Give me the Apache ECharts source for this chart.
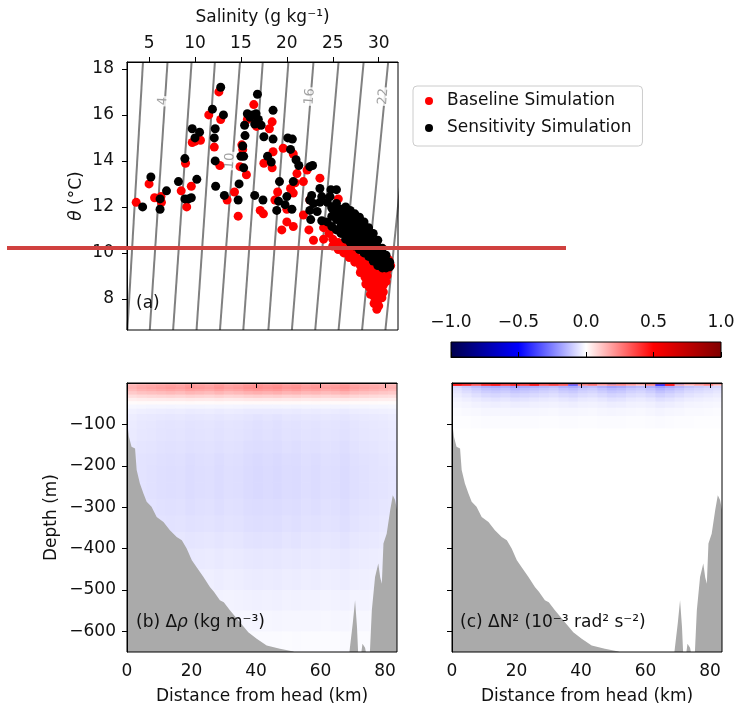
<!DOCTYPE html>
<html>
<head>
<meta charset="utf-8">
<script src="https://cdn.jsdelivr.net/npm/echarts@6/dist/echarts.min.js"></script>
<style>
  html, body { margin: 0; padding: 0; background: #fff; }
  #chart { width: 738px; height: 711px; }
</style>
</head>
<body>
<div id="chart"></div>
<script>
// ---------- panel (a): theta-S diagram ----------
const salTicks = [5, 10, 15, 20, 25, 30];
const thetaTicks = [8, 10, 12, 14, 16, 18];
// isopycnals, read as straight lines: salinity where each one meets the bottom / top of the box
const sigmaLevels = [2, 4, 6, 8, 10, 12, 14, 16, 18, 20, 22, 24];
const thetaBottom = 6.65;
const thetaTop = 18.3;
const sigmaSalBottom = [2.64, 5.08, 7.62, 10.17, 12.72, 15.26, 17.99, 20.55, 23.09, 25.63, 28.19, 30.73];
const sigmaSalTop = [4.34, 7.01, 9.63, 12.17, 14.90, 17.38, 20.17, 22.90, 25.63, 28.36, 31.03, 33.70];
const sigmaLabels = [[6.5, 16.6, 4], [13.8, 14.0, 10], [22.5, 16.8, 16], [30.5, 16.8, 22]];

const baseline = [
  [3.6,12.2],[5.0,13.0],[5.6,12.4],[6.35,12.2],[6.3,12.45],[8.5,12.7],[8.97,13.9],[9.1,12.0],[9.6,12.9],
  [9.7,14.8],[10.0,14.85],[10.6,14.9],[12.1,14.6],[12.6,17.0],[11.5,16.0],[12.7,13.8],[12.8,15.8],[13.5,12.3],
  [14.3,12.65],[14.7,11.6],[14.9,13.75],[15.1,14.7],[15.2,14.5],[15.6,13.4],[15.7,15.8],[16.1,15.9],[16.4,16.45],
  [16.7,15.5],[17.1,11.85],[17.45,11.7],[17.5,13.9],[18.1,15.4],[18.4,15.7],[18.4,13.7],[18.5,14.4],[18.7,12.3],
  [19.0,12.65],[19.45,11.0],[19.6,14.55],[20.0,11.9],[20.0,11.35],[20.4,12.8],[20.7,14.3],[20.7,12.6],[20.7,11.15],
  [20.9,13.05],[21.1,13.45],[21.8,13.1],[21.8,11.65],[22.2,13.6],[22.4,11.0],[22.5,12.3],[22.9,10.55],[23.6,13.25],
  [24.0,10.6],[24.2,11.2],[25.6,12.35],
  // dense cloud at the salty end
  [24.0,11.1],[24.6,10.85],[26.0,11.0],[27.0,10.6],[28.0,10.3],[29.0,10.0],[30.0,9.7],[31.1,9.7],[31.3,9.45],
  [25.0,10.6],[25.0,10.3],[25.6,10.45],[25.6,10.15],[26.2,10.3],[26.2,10.0],[26.8,10.1],[26.8,9.8],
  [27.4,9.95],[27.4,9.6],[28.0,9.75],[28.0,9.45],[28.0,9.15],[28.5,9.55],[28.5,9.25],[28.5,8.95],[28.6,8.65],
  [29.0,9.4],[29.0,9.1],[29.0,8.8],[29.0,8.5],[29.1,8.2],[29.5,9.3],[29.5,9.0],[29.5,8.7],[29.5,8.4],[29.5,8.1],
  [29.5,7.8],[30.0,9.2],[30.0,8.9],[30.0,8.6],[30.0,8.3],[30.0,8.0],[30.0,7.7],[30.5,9.2],[30.5,8.9],[30.5,8.6],
  [30.5,8.3],[30.35,8.05],[31.0,9.3],[30.9,9.0],[30.8,8.75],[29.8,7.55]
];

const sensitivity = [
  [4.3,12.0],[5.2,13.3],[6.2,12.35],[6.2,11.9],[6.9,12.7],[8.2,13.1],[8.9,14.1],[8.9,12.35],[9.3,12.35],[9.6,12.4],
  [9.7,15.4],[10.0,15.0],[10.2,13.2],[10.5,15.25],[11.9,16.25],[12.1,15.0],[12.2,15.4],[12.2,14.0],[12.25,12.9],
  [12.8,17.2],[13.1,16.0],[13.2,12.5],[14.7,12.3],[14.8,13.0],[15.0,14.2],[15.2,14.65],[15.3,14.2],[15.3,13.7],
  [15.4,15.55],[15.45,15.1],[15.7,16.05],[16.0,15.9],[16.3,16.0],[16.5,12.5],[16.65,16.05],[16.8,16.9],[16.9,15.8],
  [16.5,15.6],[17.2,15.55],[17.4,12.3],[17.5,15.05],[17.9,14.2],[18.3,13.95],[18.5,16.2],[18.5,14.95],[18.9,11.85],
  [19.1,12.25],[19.2,13.1],[19.8,12.1],[20.0,12.45],[20.1,15.0],[20.4,14.5],[20.55,11.9],[20.6,14.95],[20.7,13.1],
  [21.0,14.05],[21.3,13.8],[22.5,13.75],[22.5,12.3],[22.5,11.85],[22.6,11.45],[22.7,12.5],[22.8,13.8],[22.9,12.15],
  [23.3,11.8],[23.6,12.8],[23.6,12.2],[23.8,12.45],[23.8,11.4],[24.7,12.45],[24.9,12.0],[24.8,12.75],[25.4,12.75],
  // dense band at the salty end
  [24.4,12.2],[24.4,11.35],[24.9,11.95],[24.9,11.6],[24.9,11.15],[25.4,12.15],[25.4,11.8],[25.4,11.45],[25.4,11.0],
  [25.9,11.9],[25.9,11.55],[25.9,11.2],[25.9,10.85],[26.4,12.0],[26.4,11.65],[26.4,11.3],[26.4,10.95],[26.4,10.6],
  [26.9,11.85],[26.9,11.5],[26.9,11.15],[26.9,10.8],[26.9,10.45],[27.4,11.7],[27.4,11.35],[27.4,11.0],[27.4,10.65],
  [27.4,10.3],[27.9,11.55],[27.9,11.2],[27.9,10.85],[27.9,10.5],[27.9,10.15],[28.4,11.35],[28.4,11.0],[28.4,10.65],
  [28.4,10.3],[28.4,10.0],[28.9,11.1],[28.9,10.75],[28.9,10.4],[28.9,10.1],[28.9,9.85],[29.4,10.85],[29.4,10.5],
  [29.4,10.2],[29.4,9.9],[29.4,9.65],[29.9,10.55],[29.9,10.25],[29.9,9.95],[29.9,9.65],[29.9,9.45],[30.4,10.2],
  [30.4,9.9],[30.4,9.6],[30.4,9.35],[30.8,9.9],[30.8,9.6],[30.8,9.35],[31.2,9.6],[31.2,9.4]
];

// ---------- panels (b), (c): sections along the fjord ----------
const distTicks = [0, 20, 40, 60, 80];
const depthTicks = [-600, -500, -400, -300, -200, -100];
const cbTicks = [-1, -0.5, 0, 0.5, 1];

const bathyX = [0, 0.6, 1.4, 2.0, 2.5, 3.0, 4.0, 5.1, 6.1, 7.6, 9.2, 11.3, 13.3, 15.4, 17.0, 18.5, 20.1, 21.6, 23.7,
  25.7, 27.0, 28.8, 30.0, 31.9, 35.0, 37.6, 40.2, 43.3, 47.4, 51.6, 53, 68.8, 69.1, 70.0, 70.7, 71.3, 71.7, 72.5,
  73.0, 73.8, 74.3, 75.0, 75.3, 75.9, 76.9, 77.9, 78.5, 79.0, 79.5, 80.5, 81.6, 82.4, 83.1, 83.7];
const bathyDepth = [-90, -130, -154, -150, -158, -210, -243, -267, -287, -299, -324, -336, -356, -372, -380, -400,
  -428, -445, -469, -493, -505, -525, -530, -549, -578, -602, -618, -634, -642, -649, -660, -660, -640, -580, -525,
  -590, -660, -660, -630, -640, -660, -660, -650, -549, -469, -436, -470, -485, -388, -364, -307, -271, -283, -307];

const colEdges = [0,3,6,9,12,15,18,21,24,27,30,33,36,39,42,45,48,51,54,57,60,63,66,69,72,75,78,81,84];

const depthEdgesB = [0,-4,-8,-14,-20,-28,-36,-44,-52,-62,-75,-90,-110,-140,-170,-200,-240,-280,-320,-360,-400,-450,-500,-550,-600,-650];
const profileB = [0.14,0.18,0.19,0.17,0.13,0.08,0.04,0.01,-0.02,-0.035,-0.045,-0.05,-0.052,-0.056,-0.06,-0.062,-0.062,-0.058,-0.054,-0.047,-0.04,-0.032,-0.024,-0.016,-0.008];
const colFactorB = [0.8,0.9,0.95,1.0,1.05,1.0,1.1,1.05,1.0,1.1,1.0,1.05,1.15,1.2,1.15,1.2,1.1,1.15,1.05,1.1,1.0,1.05,1.15,1.0,0.95,0.9,0.85,0.8];

const depthEdgesC = [0,-3,-7,-12,-18,-25,-35,-45,-60,-80,-110,-650];
const cTop = [0.6,0.7,0.65,0.75,0.6,0.7,0.8,0.65,0.7,0.6,0.75,0.7,0.65,0.8,0.7,0.6,-0.85,0.7,0.65,0.6,0.75,0.7,0.6,-0.7,0.65,0.7,0.6,0.65];
const cMid = [0.45,0.4,0.3,0.4,0.45,0.35,0.4,0.35,0.45,0.3,0.35,0.3,-0.3,0.2,0.25,0.15,0.2,0.2,0.15,0.1,0.2,-0.4,0.45,0.15,0.1,0.15,0.2,0.1];
const profileC = [-0.13,-0.1,-0.08,-0.06,-0.04,-0.025,-0.014,-0.006,0];
const colFactorC = [0.6,0.8,1,1.2,1.3,1.2,1.4,1.3,1.2,1.1,1.0,1.2,1.3,1.1,1.0,1.2,1.4,1.3,1.1,1.0,1.2,1.5,1.3,1.1,0.9,0.8,0.7,0.6];

const seismic = ['#00004c', '#0000ff', '#ffffff', '#ff0000', '#800000'];

// cells: [x0, x1, d0, d1, value]
const fieldB = [];
for (let r = 0; r < profileB.length; r++) {
  for (let c = 0; c < colFactorB.length; c++) {
    fieldB.push([colEdges[c], colEdges[c + 1], depthEdgesB[r], depthEdgesB[r + 1], profileB[r] * colFactorB[c]]);
  }
}
const fieldC = [];
for (let r = 0; r < depthEdgesC.length - 1; r++) {
  for (let c = 0; c < colFactorC.length; c++) {
    let v = r === 0 ? cTop[c] : r === 1 ? cMid[c] : profileC[r - 2] * colFactorC[c];
    fieldC.push([colEdges[c], colEdges[c + 1], depthEdgesC[r], depthEdgesC[r + 1], v]);
  }
}

const FONT = 'DejaVu Sans';
const TXT = '#111';
const minus = (s) => String(s).replace('-', '\u2212');

function renderCell(params, api) {
  const p0 = api.coord([api.value(0), api.value(2)]);
  const p1 = api.coord([api.value(1), api.value(3)]);
  const cs = params.coordSys;
  const shape = echarts.graphic.clipRectByRect({
    x: Math.min(p0[0], p1[0]),
    y: Math.min(p0[1], p1[1]),
    width: Math.abs(p1[0] - p0[0]) + 0.6,
    height: Math.abs(p1[1] - p0[1]) + 0.6
  }, { x: cs.x, y: cs.y, width: cs.width, height: cs.height });
  return shape && { type: 'rect', shape: shape, style: { fill: api.visual('color') } };
}

function renderColorbar(params, api) {
  const cs = params.coordSys;
  return {
    type: 'rect',
    shape: { x: cs.x, y: cs.y, width: cs.width, height: cs.height },
    style: {
      fill: new echarts.graphic.LinearGradient(0, 0, 1, 0,
        seismic.map((col, i) => ({ offset: i / (seismic.length - 1), color: col })))
    }
  };
}

const axisLine = { show: true, lineStyle: { color: '#000', width: 1 } };
function ticks(values) {
  return { show: true, customValues: values, length: 5, inside: false, lineStyle: { color: '#000', width: 1 } };
}
function labels(values, extra) {
  return Object.assign({ customValues: values, fontSize: 17, fontFamily: FONT, color: TXT }, extra || {});
}
const nameStyle = { fontSize: 17, fontFamily: FONT, color: TXT };

const series = [];
sigmaLevels.forEach((lv, i) => {
  series.push({
    type: 'line', xAxisIndex: 0, yAxisIndex: 0, silent: true, symbol: 'none', z: 1, clip: true,
    data: [[sigmaSalBottom[i], thetaBottom], [sigmaSalTop[i], thetaTop]],
    lineStyle: { color: '#808080', width: 2 }
  });
});
series.push({
  type: 'scatter', xAxisIndex: 0, yAxisIndex: 0, silent: true, z: 2,
  data: sigmaLabels, symbolSize: 1, itemStyle: { color: 'rgba(0,0,0,0)' },
  label: {
    show: true, position: 'inside', rotate: 86, formatter: (p) => p.value[2],
    color: '#8a8a8a', fontSize: 13, fontFamily: FONT, backgroundColor: '#fff', padding: [0, 1]
  }
});
series.push({
  name: 'Baseline Simulation', type: 'scatter', xAxisIndex: 0, yAxisIndex: 0, z: 3,
  data: baseline, symbolSize: 9, itemStyle: { color: '#ff0000', opacity: 1 }
});
series.push({
  name: 'Sensitivity Simulation', type: 'scatter', xAxisIndex: 0, yAxisIndex: 0, z: 4,
  data: sensitivity, symbolSize: 9, itemStyle: { color: '#000000', opacity: 1 }
});

const fieldSeries = [];
[[1, fieldB], [2, fieldC]].forEach(([ax, field]) => {
  fieldSeries.push(series.length);
  series.push({
    type: 'custom', xAxisIndex: ax, yAxisIndex: ax, silent: true, z: 1,
    renderItem: renderCell, encode: { x: [0, 1], y: [2, 3] }, data: field
  });
  series.push({
    type: 'line', xAxisIndex: ax, yAxisIndex: ax, silent: true, z: 3, symbol: 'none', clip: true,
    data: bathyX.map((x, i) => [x, bathyDepth[i]]),
    lineStyle: { width: 0 },
    areaStyle: { color: '#aaaaaa', opacity: 1, origin: 'start' }
  });
});
series.push({
  type: 'custom', xAxisIndex: 3, yAxisIndex: 3, silent: true, z: 1,
  renderItem: renderColorbar, data: [[-1, 1, 0, 1]]
});

const option = {
  animation: false,
  backgroundColor: '#fff',
  textStyle: { fontFamily: FONT },
  grid: [
    { left: 127, top: 62, width: 271, height: 268 },
    { left: 127, top: 383, width: 270, height: 269 },
    { left: 452, top: 383, width: 270, height: 269 },
    { left: 451, top: 342, width: 270, height: 15 }
  ].map((g) => Object.assign(g, { show: true, borderColor: '#000', borderWidth: 1, backgroundColor: 'transparent', z: 6 })),
  xAxis: [
    {
      gridIndex: 0, type: 'value', position: 'top', min: 2.6, max: 32.1, z: 7,
      axisLine: axisLine, axisTick: ticks(salTicks), axisLabel: labels(salTicks, { margin: 10 }), splitLine: { show: false },
      name: 'Salinity (g kg\u207B\u00B9)', nameLocation: 'middle', nameGap: 36, nameTextStyle: nameStyle
    },
    {
      gridIndex: 1, type: 'value', min: 0, max: 83.7, z: 7,
      axisLine: axisLine, axisTick: ticks(distTicks), axisLabel: labels(distTicks, { margin: 11 }), splitLine: { show: false },
      name: 'Distance from head (km)', nameLocation: 'middle', nameGap: 36, nameTextStyle: nameStyle
    },
    {
      gridIndex: 2, type: 'value', min: 0, max: 83.7, z: 7,
      axisLine: axisLine, axisTick: ticks(distTicks), axisLabel: labels(distTicks, { margin: 11 }), splitLine: { show: false },
      name: 'Distance from head (km)', nameLocation: 'middle', nameGap: 36, nameTextStyle: nameStyle
    },
    {
      gridIndex: 3, type: 'value', position: 'top', min: -1, max: 1, z: 7,
      axisLine: axisLine, axisTick: ticks(cbTicks),
      axisLabel: labels(cbTicks, { margin: 11, formatter: (v) => minus(v.toFixed(1)) }), splitLine: { show: false }
    }
  ],
  yAxis: [
    {
      gridIndex: 0, type: 'value', min: 6.65, max: 18.3, z: 7,
      axisLine: axisLine, axisTick: ticks(thetaTicks), axisLabel: labels(thetaTicks, { margin: 13 }), splitLine: { show: false },
      name: '{i|\u03B8} (\u00B0C)', nameLocation: 'middle', nameGap: 42,
      nameTextStyle: Object.assign({ rich: { i: { fontStyle: 'italic', fontSize: 17, fontFamily: FONT, color: TXT } } }, nameStyle)
    },
    {
      gridIndex: 1, type: 'value', min: -650, max: 0, z: 7,
      axisLine: axisLine, axisTick: ticks(depthTicks),
      axisLabel: labels(depthTicks, { margin: 11, formatter: (v) => minus(v) }), splitLine: { show: false },
      name: 'Depth (m)', nameLocation: 'middle', nameGap: 67, nameTextStyle: nameStyle
    },
    {
      gridIndex: 2, type: 'value', min: -650, max: 0, z: 7,
      axisLine: axisLine, axisTick: ticks(depthTicks), axisLabel: { show: false }, splitLine: { show: false }
    },
    { gridIndex: 3, type: 'value', min: 0, max: 1, show: false }
  ],
  visualMap: {
    type: 'continuous', show: false, min: -1, max: 1, dimension: 4,
    seriesIndex: fieldSeries, inRange: { color: seismic }
  },
  legend: {
    data: ['Baseline Simulation', 'Sensitivity Simulation'],
    orient: 'vertical', left: 413, top: 86,
    icon: 'circle', itemWidth: 26, itemHeight: 8, itemGap: 7,
    padding: [5, 11, 8, 12],
    borderColor: '#cccccc', borderWidth: 1, borderRadius: 4, backgroundColor: '#fff',
    textStyle: { fontSize: 17, fontFamily: FONT, color: TXT, lineHeight: 20 }
  },
  graphic: [
    { type: 'text', x: 136, y: 304, z: 20, style: { text: '(a)', fontSize: 17, fontFamily: FONT, fill: TXT, verticalAlign: 'middle' } },
    {
      type: 'text', x: 136, y: 623, z: 20,
      style: {
        text: '(b) \u0394{i|\u03C1} (kg m\u207B\u00B3)', fontSize: 17, fontFamily: FONT, fill: TXT, verticalAlign: 'middle',
        rich: { i: { fontStyle: 'italic', fontSize: 17, fontFamily: FONT, fill: TXT } }
      }
    },
    {
      type: 'text', x: 460, y: 623, z: 20,
      style: { text: '(c) \u0394N\u00B2 (10\u207B\u00B3 rad\u00B2 s\u207B\u00B2)', fontSize: 17, fontFamily: FONT, fill: TXT, verticalAlign: 'middle' }
    },
    { type: 'line', z: 100, shape: { x1: 7, y1: 248, x2: 566, y2: 248 }, style: { stroke: '#d0413f', lineWidth: 4 } }
  ],
  series: series
};

const chart = echarts.init(document.getElementById('chart'), null, { renderer: 'canvas' });
chart.setOption(option);
</script>
</body>
</html>
